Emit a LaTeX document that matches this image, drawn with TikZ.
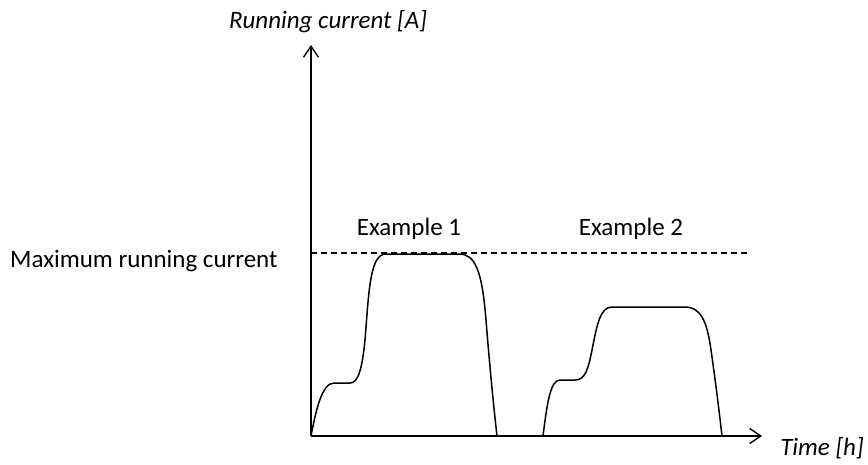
\documentclass[tikz,border=0pt]{standalone}
\usepackage{fontspec}
\setmainfont{Carlito}
\usetikzlibrary{arrows.meta}
\begin{document}
\begin{tikzpicture}[x=1pt,y=-1pt,
  axis/.style={line width=1.4pt,-{Straight Barb[length=11pt,width=15pt,line width=1.4pt]}},
  curve/.style={line width=1.5pt,line join=round},
  maxline/.style={line width=1.2pt,dash pattern=on 6pt off 4pt},
  lbl/.style={font=\fontsize{25}{30}\selectfont,inner sep=0pt},
  axlbl/.style={font=\fontsize{25}{30}\selectfont\itshape,inner sep=0pt}]
\useasboundingbox (0,0) rectangle (868,464);
\coordinate (O) at (311,436);
\coordinate (ytip) at (311,45);
\coordinate (xtip) at (762,436);
\coordinate (m0) at (311,253);
\coordinate (m1) at (750,253);
\draw[axis] (O) -- (ytip);
\draw[axis] (O) -- (xtip);
\draw[maxline] (m0) -- (m1);
\node[axlbl,anchor=base] (ylab) at (328,28) {Running current [A]};
\node[axlbl,anchor=base] (xlab) at (822,455) {Time [h]};
\node[lbl,anchor=base west] (maxlab) at (10,267) {Maximum running current};
\node[lbl,anchor=base] (ex1) at (409,235) {Example 1};
\node[lbl,anchor=base] (ex2) at (631,235) {Example 2};
\draw[curve] (311,436) .. controls (316,410) and (322,383) .. (334,383) -- (350,383)
  .. controls (358,383) and (362,370) .. (365,340)
  .. controls (369,290) and (370,254) .. (386,254) -- (459,254)
  .. controls (475,254) and (482,270) .. (486,320)
  .. controls (490,370) and (494,410) .. (497,436);
\draw[curve] (543,436) .. controls (547,405) and (550,380) .. (560,380) -- (575,380)
  .. controls (585,380) and (588,370) .. (592,350)
  .. controls (597,325) and (600,307) .. (612,307) -- (685,307)
  .. controls (700,307) and (707,320) .. (711,350)
  .. controls (716,385) and (719,410) .. (722,436);
\end{tikzpicture}
\end{document}
